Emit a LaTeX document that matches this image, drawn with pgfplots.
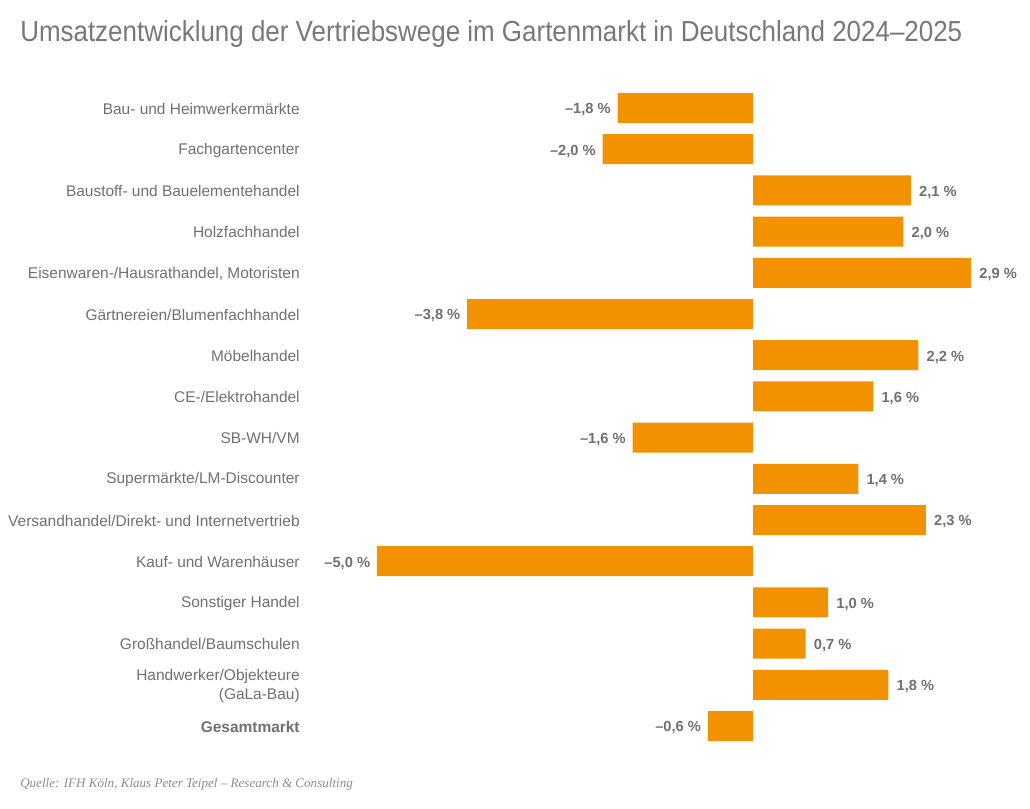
\documentclass[border=0pt]{standalone}
\usepackage{fontspec}
\setmainfont{Liberation Sans}
\newfontfamily\titlefont[FakeStretch=0.895]{Liberation Sans}
\newfontfamily\srcfont{Liberation Serif}
\usepackage{pgfplots}
\pgfplotsset{compat=1.18}
\usepackage{pgfplotstable}
\definecolor{barorange}{RGB}{243,146,0}
\definecolor{txtgray}{RGB}{112,112,112}
\definecolor{titlegray}{RGB}{120,120,120}
\definecolor{srcgray}{RGB}{140,140,140}

\pgfplotstableread{
y val lab
2 2.1 {2,1~\%}
3 2.0 {2,0~\%}
4 2.9 {2,9~\%}
6 2.2 {2,2~\%}
7 1.6 {1,6~\%}
9 1.4 {1,4~\%}
10 2.3 {2,3~\%}
12 1.0 {1,0~\%}
13 0.7 {0,7~\%}
14 1.8 {1,8~\%}
}\postab

\pgfplotstableread{
y val lab
0 -1.8 {–1,8~\%}
1 -2.0 {–2,0~\%}
5 -3.8 {–3,8~\%}
8 -1.6 {–1,6~\%}
11 -5.0 {–5,0~\%}
15 -0.6 {–0,6~\%}
}\negtab

\begin{document}
\begin{tikzpicture}
\useasboundingbox (-254.55pt,-46.05pt) rectangle (517.95pt,559.95pt);
\begin{axis}[
  scale only axis,
  width=507.6pt, height=494.4pt,
  xmin=-5.5, xmax=3.5, ymin=-0.5, ymax=15.5,
  y dir=reverse,
  axis line style={draw=none},
  major tick length=0pt,
  xtick=\empty,
  ytick={0,...,15},
  yticklabels={Bau- und Heimwerkermärkte, Fachgartencenter, Baustoff- und Bauelementehandel, Holzfachhandel, {Eisenwaren-/Hausrathandel, Motoristen}, Gärtnereien/Blumenfachhandel, Möbelhandel, CE-/Elektrohandel, SB-WH/VM, Supermärkte/LM-Discounter, Versandhandel/Direkt- und Internetvertrieb, Kauf- und Warenhäuser, Sonstiger Handel, Großhandel/Baumschulen, {Handwerker/Objekteure\\(GaLa-Bau)}, \textbf{Gesamtmarkt}},
  yticklabel style={inner sep=0pt, xshift=-29.6pt, yshift=-0.6pt, anchor=east, align=right, text=txtgray, font=\fontsize{11.6}{14.2}\selectfont},
  xbar, bar width=22.5pt, bar shift=0pt,
  point meta=explicit symbolic,
  nodes near coords,
  every node near coord/.append style={inner sep=0pt, yshift=-1.4pt, text=txtgray, font=\fontsize{11}{12}\selectfont\bfseries},
  clip=false,
]
\addplot[fill=barorange, draw=none, every node near coord/.append style={anchor=west, xshift=6pt}] table[x=val, y=y, meta=lab] {\postab};
\addplot[fill=barorange, draw=none, every node near coord/.append style={anchor=east, xshift=-5pt}] table[x=val, y=y, meta=lab] {\negtab};
\end{axis}
\node[anchor=base west, inner sep=0pt, text=titlegray, font=\titlefont\fontsize{21.75}{24}\selectfont] at (-239.55pt,528.45pt) {Umsatzentwicklung der Vertriebswege im Gartenmarkt in Deutschland 2024–2025};
\node[anchor=base west, inner sep=0pt, text=srcgray, font=\srcfont\itshape\fontsize{9.8}{11}\selectfont] at (-239.55pt,-30.3pt) {Quelle: IFH Köln, Klaus Peter Teipel – Research \& Consulting};
\end{tikzpicture}
\end{document}
